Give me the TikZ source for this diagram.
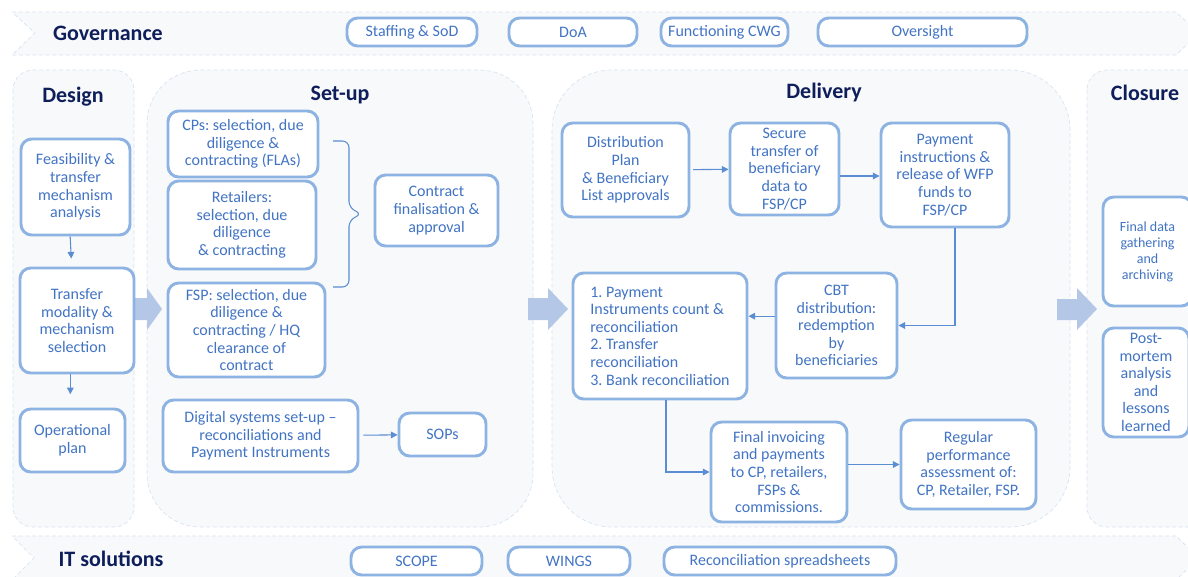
\documentclass[tikz,border=0pt]{standalone}
\usepackage{fontspec}
\setmainfont{Carlito}
\usepackage{xcolor}
\definecolor{titlenavy}{RGB}{14, 30, 90}
\definecolor{boxline}{RGB}{141, 179, 226}
\definecolor{boxtext}{RGB}{66, 116, 196}
\definecolor{flowline}{RGB}{91, 141, 210}
\definecolor{arrowfill}{RGB}{180, 199, 231}
\definecolor{panelfill}{RGB}{248, 249, 251}
\definecolor{panelline}{RGB}{214, 226, 242}
\usepackage{tikz}
\usetikzlibrary{arrows.meta, positioning, calc}
\frenchspacing

\begin{document}
\begin{tikzpicture}[x=0.75pt, y=-0.75pt, >={Triangle[length=5pt, width=5pt]},
    box/.style={draw=boxline, line width=2.2pt, rounded corners=8pt, fill=white, text=boxtext,
        align=center, inner sep=0pt, font=\fontsize{12}{13.2}\selectfont},
    span/.style n args={4}{at={({(#1+#3)/2},{(#2+#4)/2})},
        minimum width={(#3-#1)*0.75pt}, minimum height={(#4-#2)*0.75pt}},
    panel/.style={draw=panelline, densely dashed, line width=0.5pt, fill=panelfill},
    title/.style={font=\fontsize{16.5}{18}\selectfont\bfseries, text=titlenavy},
    flow/.style={draw=flowline, line width=0.8pt, ->},
    bigarrow/.style={fill=arrowfill}]
    \useasboundingbox (0,0) rectangle (1188,576);

    % bands
    \draw[panel] (12,12) -- (1176,12) -- (1199,33) -- (1176,55) -- (12,55) -- (35,33) -- cycle;
    \draw[panel] (12,536) -- (1176,536) -- (1199,558) -- (1176,580) -- (12,580) -- (34,558) -- cycle;
    \node[title] (gov) at (108,33) {Governance};
    \node[title] (its) at (111,559) {IT solutions};

    \node[box, span={347}{18}{477}{46}] (staff) {Staffing \& SoD};
    \node[box, span={509}{18}{637}{46}] (doa) {DoA};
    \node[box, span={661}{18}{788}{46}] (cwg) {Functioning CWG};
    \node[box, span={818}{18}{1027}{46}] (oversight) {Oversight};

    \node[box, span={351}{547}{482}{575}] (scope) {SCOPE};
    \node[box, span={508}{547}{630}{575}] (wings) {WINGS};
    \node[box, span={664}{547}{896}{575}] (recsheet) {Reconciliation spreadsheets};

    % stages
    \draw[panel, rounded corners=15pt] (13,70) rectangle (134,527);
    \draw[panel, rounded corners=40pt] (147,70) rectangle (533,527);
    \draw[panel, rounded corners=45pt] (552,70) rectangle (1070,527);
    \draw[panel, rounded corners=15pt] (1087,70) rectangle (1210,527);

    \node[title] (design) at (73,97) {Design};
    \node[title] (setup) at (340,95) {Set-up};
    \node[title] (delivery) at (824,93) {Delivery};
    \node[title] (closure) at (1145,93) {Closure};

    \fill[bigarrow] (135,298) -- (147,298) -- (147,288) -- (162,309) -- (147,330) -- (147,320) -- (135,320) -- cycle;
    \fill[bigarrow] (528,298) -- (548,298) -- (548,288) -- (568,309) -- (548,330) -- (548,320) -- (528,320) -- cycle;
    \fill[bigarrow] (1057,299) -- (1077,299) -- (1077,288) -- (1097,309) -- (1077,330) -- (1077,320) -- (1057,320) -- cycle;

    % design
    \node[box, span={21}{139}{130}{235}] (feas) {Feasibility \&\\transfer\\mechanism\\analysis};
    \node[box, span={20}{268}{134}{373}] (modal) {Transfer\\modality \&\\mechanism\\selection};
    \node[box, span={20}{409}{125}{472}] (opplan) {Operational\\plan};
    \draw[flow, shorten >=6pt] ([xshift=-4pt]feas.south) -- ([xshift=-4pt]modal.north);
    \draw[flow, shorten >=10pt] ([xshift=-5pt]modal.south) -- ([xshift=-5pt]modal.south |- opplan.north);

    % set-up
    \node[box, span={168}{111}{318}{177}] (cps) {CPs: selection, due\\diligence \&\\contracting (FLAs)};
    \node[box, span={168}{181}{316}{269}] (retail) {Retailers:\\selection, due\\diligence\\\& contracting};
    \node[box, span={168}{283}{325}{377}] (fsp) {FSP: selection, due\\diligence \&\\contracting / HQ\\clearance of\\contract};
    \node[box, span={375}{175}{498}{246}] (contract) {Contract\\finalisation \&\\approval};
    \node[box, span={163}{400}{358}{472}] (digital) {Digital systems set-up --\\reconciliations and\\Payment Instruments};
    \node[box, span={399}{413}{486}{456}] (sops) {SOPs};
    \draw[draw=flowline, line width=0.8pt, rounded corners=5pt]
        (333,141) -- (349,141) -- (349,208) -- (362,214) -- (349,220) -- (349,287) -- (333,287);
    \draw[flow, shorten <=3pt] (digital) -- (sops);

    % delivery
    \node[box, span={562}{123}{689}{217}] (distplan) {Distribution\\Plan\\\& Beneficiary\\List approvals};
    \node[box, span={730}{123}{839}{215}] (secure) {Secure\\transfer of\\beneficiary\\data to\\FSP/CP};
    \node[box, span={881}{123}{1009}{227}] (payinstr) {Payment\\instructions \&\\release of WFP\\funds to\\FSP/CP};
    \node[box, span={573}{273}{747}{399}, align=left] (recon) {1. Payment\\Instruments count \&\\reconciliation\\2. Transfer\\reconciliation\\3. Bank reconciliation};
    \node[box, span={776}{273}{897}{378}] (cbt) {CBT\\distribution:\\redemption\\by\\beneficiaries};
    \node[box, span={711}{422}{847}{522}] (invoice) {Final invoicing\\and payments\\to CP, retailers,\\FSPs \&\\commissions.};
    \node[box, span={901}{420}{1036}{509}] (regular) {Regular\\performance\\assessment of:\\CP, Retailer, FSP.};
    \draw[flow, shorten <=2pt] (distplan) -- (secure);
    \draw[flow] (secure.east |- 0,176) -- (payinstr.west |- 0,176);
    \draw[flow] ([xshift=7.5pt]payinstr.south) |- (cbt.east);
    \draw[flow] ([yshift=7pt]cbt.west) -- ([yshift=7pt]cbt.west -| recon.east);
    \draw[flow] ([xshift=4.5pt]recon.south) |- (invoice.west);
    \draw[flow] (invoice.east |- regular.west) -- (regular.west);

    % closure
    \node[box, span={1103}{197}{1192}{306}, font=\fontsize{10.5}{12}\selectfont] (archive) {Final data\\gathering\\and\\archiving};
    \node[box, span={1103}{328}{1189}{437}] (postmortem) {Post-\\mortem\\analysis\\and\\lessons\\learned};
\end{tikzpicture}
\end{document}
